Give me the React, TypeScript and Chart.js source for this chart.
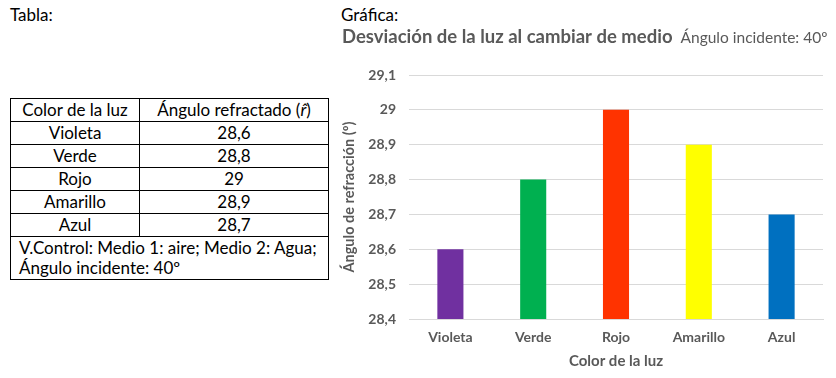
import React, { useEffect, useRef } from "react";
import { Chart, registerables } from "chart.js";

Chart.register(...registerables);

const categories = ["Violeta", "Verde", "Rojo", "Amarillo", "Azul"];
const values = [28.6, 28.8, 29, 28.9, 28.7];
const barColors = ["#7030A0", "#00B050", "#FF3300", "#FFFF00", "#0070C0"];
const yMin = 28.4;
const yMax = 29.1;
const yStep = 0.1;

const chartTitle = "Desviación de la luz al cambiar de medio";
const chartSubtitle = "Ángulo incidente: 40º";
const xAxisTitle = "Color de la luz";
const yAxisTitle = "Ángulo de refracción (º)";

const tableHeader = ["Color de la luz", "Ángulo refractado ("];
const tableNote = ["V.Control: Medio 1: aire; Medio 2: Agua;", "Ángulo incidente: 40º"];

const FONT = "Lato, 'Noto Sans', sans-serif";
const GRAY = "#595959";

const fmt = (v: number) => String(Number(v.toFixed(1))).replace(".", ",");

const titlePlugin = {
  id: "inlineTitle",
  afterDraw(chart: any) {
    const ctx = chart.ctx;
    ctx.save();
    ctx.fillStyle = GRAY;
    ctx.textBaseline = "middle";
    ctx.textAlign = "left";
    ctx.font = `bold 18.5px ${FONT}`;
    const x = 6;
    const y = 37;
    ctx.fillText(chartTitle, x, y);
    const w = ctx.measureText(chartTitle).width;
    ctx.font = `15.5px ${FONT}`;
    ctx.fillText(chartSubtitle, x + w + 8, y + 1);
    ctx.restore();
  },
};

function BarChart() {
  const ref = useRef<HTMLCanvasElement | null>(null);
  useEffect(() => {
    if (!ref.current) return;
    const chart = new Chart(ref.current, {
      type: "bar",
      data: {
        labels: categories,
        datasets: [
          {
            data: values,
            backgroundColor: barColors,
            borderWidth: 0,
            barPercentage: 0.315,
            categoryPercentage: 1,
          },
        ],
      },
      options: {
        animation: false,
        responsive: false,
        maintainAspectRatio: false,
        layout: { padding: { top: 75, right: 13, bottom: 0, left: 0 } },
        plugins: {
          legend: { display: false },
          tooltip: { enabled: false },
          title: { display: false },
        },
        scales: {
          x: {
            grid: { display: false, drawTicks: false },
            border: { display: true, color: "#D9D9D9", width: 1 },
            ticks: {
              color: GRAY,
              padding: 10,
              font: { family: FONT, size: 14, weight: "bold" },
            },
            title: {
              display: true,
              text: xAxisTitle,
              color: GRAY,
              padding: { top: 4, bottom: 8 },
              font: { family: FONT, size: 15, weight: "bold" },
            },
            afterFit(s: any) {
              s.height = 59;
            },
          },
          y: {
            min: yMin,
            max: yMax,
            grid: { color: "#D9D9D9", drawTicks: false },
            border: { display: false },
            ticks: {
              stepSize: yStep,
              color: GRAY,
              padding: 13,
              font: { family: FONT, size: 14, weight: "bold" },
              callback: (v: any) => fmt(Number(v)),
            },
            title: {
              display: true,
              text: yAxisTitle,
              color: GRAY,
              padding: { top: 5, bottom: 4 },
              font: { family: FONT, size: 14.5, weight: "bold" },
            },
            afterFit(s: any) {
              s.width = 73;
            },
          },
        },
      },
      plugins: [titlePlugin],
    });
    return () => chart.destroy();
  }, []);
  return <canvas ref={ref} width={500} height={378} />;
}

const cell: React.CSSProperties = {
  border: "1px solid #000",
  padding: "0 4px",
  height: 22,
  textAlign: "center",
};

export default function App() {
  return (
    <div
      style={{
        position: "absolute",
        left: 0,
        top: 0,
        width: 836,
        height: 378,
        background: "#fff",
        fontFamily: FONT,
        color: "#000",
        overflow: "hidden",
      }}
    >
      <div style={{ position: "absolute", left: 10, top: 4, fontSize: 17 }}>Tabla:</div>
      <div style={{ position: "absolute", left: 341, top: 4, fontSize: 17 }}>Gráfica:</div>
      <table
        style={{
          position: "absolute",
          left: 10,
          top: 98,
          width: 319,
          borderCollapse: "collapse",
          fontSize: 17,
          lineHeight: "20px",
        }}
      >
        <tbody>
          <tr>
            <td style={{ ...cell, width: 120 }}>{tableHeader[0]}</td>
            <td style={cell}>
              {tableHeader[1]}
              <i>r&#770;</i>)
            </td>
          </tr>
          {categories.map((c, i) => (
            <tr key={c}>
              <td style={cell}>{c}</td>
              <td style={cell}>{fmt(values[i])}</td>
            </tr>
          ))}
          <tr>
            <td colSpan={2} style={{ ...cell, textAlign: "left", padding: "1px 8px", height: 40 }}>
              {tableNote[0]}
              <br />
              {tableNote[1]}
            </td>
          </tr>
        </tbody>
      </table>
      <div style={{ position: "absolute", left: 336, top: 0, width: 500, height: 378 }}>
        <BarChart />
      </div>
    </div>
  );
}
